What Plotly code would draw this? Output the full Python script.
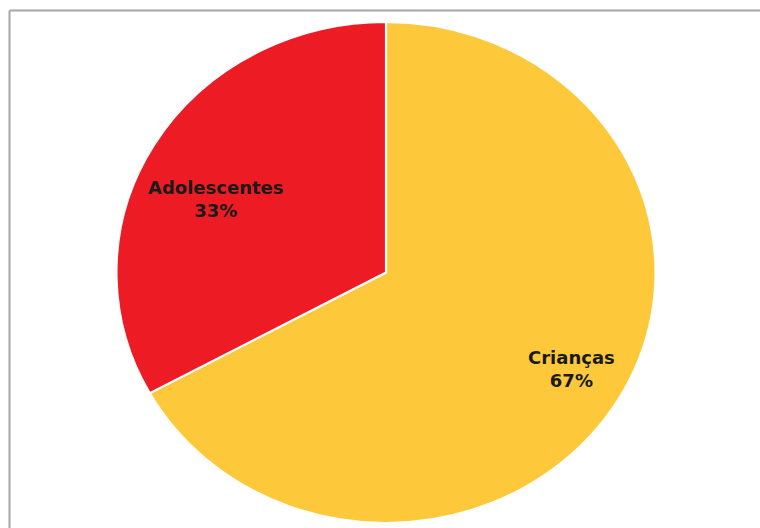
import plotly.graph_objects as go

# Data
labels = ["Crianças", "Adolescentes"]
values = [67, 33]
colors = ["#FDC93B", "#ED1C24"]

W, H = 760, 528

fig = go.Figure()
fig.add_trace(go.Pie(
    labels=labels,
    values=values,
    sort=False,
    direction="clockwise",
    rotation=0,
    textinfo="none",
    hoverinfo="label+percent",
    marker=dict(colors=colors, line=dict(color="white", width=2)),
    domain=dict(x=[(386 - 251) / W, (386 + 251) / W], y=[5 / H, 506 / H]),
    showlegend=False,
))

# Labels placed as annotations, text built from the data
total = sum(values)
label_pos = [(571, 369), (216, 199)]
for lab, val, (px, py) in zip(labels, values, label_pos):
    fig.add_annotation(
        x=px / W, y=1 - py / H, xref="paper", yref="paper",
        text=f"{lab}<br>{round(100 * val / total)}%",
        showarrow=False, xanchor="center", yanchor="middle",
        font=dict(family="DejaVu Sans", size=18, color="#1a1a1a", weight="bold"),
    )

# Frame lines (top and left) like the reference
fig.add_shape(type="line", xref="paper", yref="paper",
              x0=9.5 / W, x1=1.02, y0=1 - 10.5 / H, y1=1 - 10.5 / H,
              line=dict(color="#a6a6a6", width=2))
fig.add_shape(type="line", xref="paper", yref="paper",
              x0=9.5 / W, x1=9.5 / W, y0=1 - 10.5 / H, y1=-0.02,
              line=dict(color="#a6a6a6", width=2))

fig.update_layout(
    width=W, height=H,
    margin=dict(l=0, r=0, t=0, b=0),
    paper_bgcolor="white",
    plot_bgcolor="white",
)

post = """
document.body.style.margin = '0';
var gd = document.getElementById('{plot_id}');
var layer = gd.querySelector('.pielayer');
if (layer) { layer.setAttribute('transform', 'translate(386,0) scale(1.076,1) translate(-386,0)'); }
"""

fig.write_html("out.html", post_script=post, config={"displayModeBar": False})
